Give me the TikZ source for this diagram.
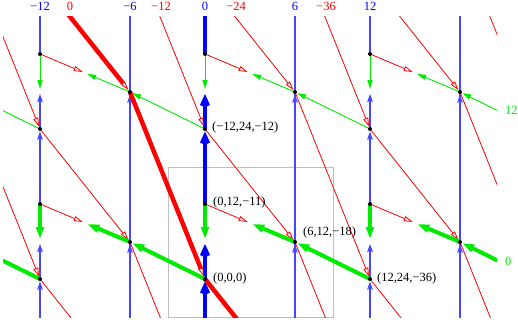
\documentclass[tikz,border=0pt]{standalone}
\usepackage{fontspec}
\setmainfont{Liberation Serif}
\usetikzlibrary{calc,arrows.meta}
\definecolor{grn}{RGB}{0,235,0}
\definecolor{blu}{RGB}{0,0,255}
\definecolor{lblu}{RGB}{70,70,255}

\begin{document}
\begin{tikzpicture}[x=1pt,y=-1pt,
    every node/.style={font=\fontsize{12.5}{15}\selectfont,inner sep=0pt},
    barb/.style={-{Straight Barb[length=6pt 0.4,width=3.6pt 0.9]},shorten >=2.5pt},
    hollow/.style={-{Triangle[open,line width=0.8pt,length=9pt,width=5pt]},shorten >=2.5pt},
    fullhead/.style={-{Triangle[length=8pt 1,width=4.4pt 0.8]},shorten >=2.5pt},
    lbl/.style={anchor=base west}]
  \useasboundingbox (0,0) rectangle (518,320);
  % vertices: a = lower, c = upper, b = side
  \foreach \i in {0,...,5}
    \foreach \j in {0,...,5}{
      \coordinate (a\i\j) at ({-125+165*\i},{579-150*\j});
      \coordinate (c\i\j) at ({-125+165*\i},{504-150*\j});
      \coordinate (b\i\j) at ({-35+165*\i},{542-150*\j});
    }
  \draw[gray!50,line width=0.8pt] (168,167) rectangle (333,317);
  \begin{scope}
    \clip (3,17) rectangle (497,317);
    % blue, b columns
    \foreach \i in {1,2,3}{
      \draw[lblu,line width=1.1pt] (b\i0) -- (b\i5);
      \foreach \j in {2,3}
        \draw[lblu,line width=1.1pt,barb] ($(b\i\j)+(0,20)$) -- (b\i\j);
    }
    % blue, a columns
    \foreach \i in {0,...,4}
      \foreach \j in {1,...,4}{
        \pgfmathtruncatemacro\jm{\j-1}
        \ifnum\i=2 \def\bc{blu}\def\bw{3.6}\else\def\bc{lblu}\def\bw{1.1}\fi
        \draw[color=\bc,line width=\bw pt,barb] (c\i\jm) -- (a\i\j);
        \draw[color=\bc,line width=\bw pt,barb] (a\i\j) -- ($(a\i\j)!0.5!(c\i\j)$);
      }
    % red
    \foreach \i in {0,...,4}
      \foreach \j in {1,...,4}{
        \pgfmathtruncatemacro\ip{\i+1}
        \pgfmathtruncatemacro\jp{\j+1}
        \pgfmathtruncatemacro\jm{\j-1}
        \pgfmathsetmacro\rw{(2*\i+\j==5) ? 4.5 : 0.8}
        \draw[red,line width=\rw pt,hollow] (a\i\jp) -- (b\i\j);
        \draw[red,line width=\rw pt,hollow] (b\i\j) -- (a\ip\jm);
        \draw[red,line width=0.8pt,hollow] (c\i\j) -- ($(c\i\j)!0.5!(b\i\j)$);
      }
    % green
    \foreach \i in {0,...,4}
      \foreach \j in {1,...,4}{
        \pgfmathtruncatemacro\ip{\i+1}
        \pgfmathsetmacro\gw{(\j==2) ? 4 : 0.9}
        \draw[grn,line width=\gw pt,fullhead] (a\ip\j) -- (b\i\j);
        \draw[grn,line width=\gw pt,fullhead] (b\i\j) -- ($(b\i\j)!0.5!(c\i\j)$);
        \draw[grn,line width=\gw pt,fullhead] (c\i\j) -- ($(c\i\j)!0.5!(a\i\j)$);
      }
    \foreach \i in {0,...,5}
      \foreach \j in {0,...,5}
        \foreach \p in {a,b,c}
          \fill (\p\i\j) circle[radius=2pt];
  \end{scope}
  % labels
  \foreach \x/\t in {40/−12,130/−6,205/0,295/6,370/12}
    \node[anchor=base,text=blu] (bl\x) at (\x,11) {\t};
  \foreach \x/\t in {70/0,161/−12,236/−24,326/−36}
    \node[anchor=base,text=red] (rl\x) at (\x,11) {\t};
  \node[lbl,text=grn] (g12) at (505,115) {12};
  \node[lbl,text=grn] (g0) at (505,265) {0};
  \node[lbl] (v1) at ($(a23)+(7,2)$) {(−12,24,−12)};
  \node[lbl] (v2) at ($(c22)+(8,1)$) {(0,12,−11)};
  \node[lbl] (v3) at ($(a22)+(8,2)$) {(0,0,0)};
  \node[lbl] (v4) at ($(b22)+(8,-7)$) {(6,12,−18)};
  \node[lbl] (v5) at ($(a32)+(7,2)$) {(12,24,−36)};
\end{tikzpicture}
\end{document}
